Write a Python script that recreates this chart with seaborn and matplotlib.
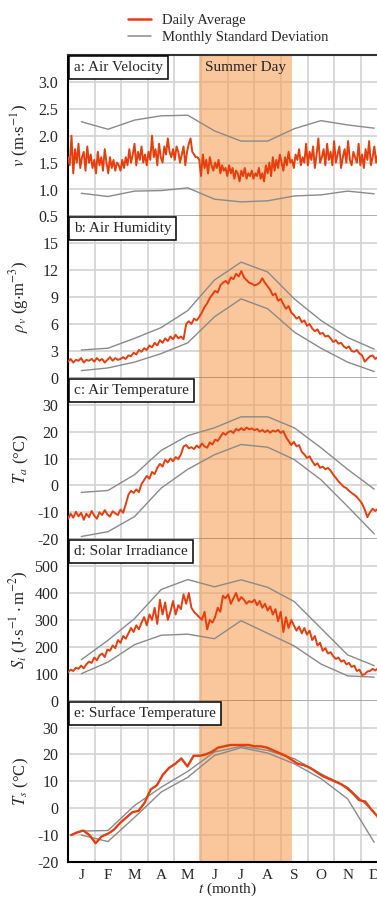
import numpy as np
import pandas as pd
import matplotlib
matplotlib.use('Agg')
import matplotlib.pyplot as plt
import seaborn as sns
from matplotlib.lines import Line2D
from matplotlib.ticker import FormatStrFormatter

# ---------------- data ----------------
month_labels = ['J', 'F', 'M', 'A', 'M', 'J', 'J', 'A', 'S', 'O', 'N', 'D']
summer_start_day = 150
summer_end_day = 256

# a: air velocity (every 2 days)
vel_daily = [
    1.6, 1.45, 2.0, 1.3, 1.75, 1.5, 1.85, 1.4, 1.6, 1.7, 1.35, 1.8, 1.5, 1.65, 1.4,
    1.55, 1.3, 1.7, 1.45, 1.6, 1.35, 1.75, 1.5, 1.3, 1.6, 1.4, 1.55, 1.35, 1.5, 1.45,
    1.35, 1.55, 1.4, 1.6, 1.45, 1.75, 1.5, 1.65, 1.85, 1.45, 1.7, 1.55, 1.8, 1.5, 1.65,
    1.45, 1.7, 1.55, 2.0, 1.6, 1.75, 1.45, 1.85, 1.6, 1.5, 1.8, 1.65, 1.95, 1.7, 1.6,
    1.75, 1.55, 1.8, 1.7, 1.5, 1.65, 1.8, 1.45, 1.7, 1.85, 1.95, 1.7, 1.65, 1.6, 1.6,
    1.55, 1.25, 1.65, 1.4, 1.55, 1.3, 1.6, 1.45, 1.35, 1.5, 1.4, 1.55, 1.3, 1.45, 1.35,
    1.4, 1.25, 1.45, 1.3, 1.4, 1.2, 1.35, 1.3, 1.15, 1.35, 1.25, 1.4, 1.2, 1.3, 1.25,
    1.35, 1.2, 1.3, 1.25, 1.4, 1.2, 1.3, 1.15, 1.45, 1.3, 1.5, 1.25, 1.6, 1.35, 1.55,
    1.4, 1.65, 1.5, 1.35, 1.6, 1.45, 1.7, 1.5, 1.55, 1.4, 1.65, 1.55, 1.75, 1.45, 1.6,
    1.5, 1.85, 1.45, 1.7, 1.55, 1.8, 1.4, 1.65, 1.95, 1.5, 1.6, 1.75, 1.45, 1.85, 1.55,
    1.7, 1.45, 1.9, 1.5, 1.65, 1.8, 1.4, 1.6, 1.75, 1.5, 1.9, 1.55, 1.45, 1.7, 1.6,
    1.5, 1.85, 1.45, 1.65, 1.4, 1.75, 1.55, 1.9, 1.45, 1.6, 1.8, 1.5, 1.65, 1.4, 1.7, 1.55, 1.8, 1.6,
]
vel_upper = [2.26, 2.12, 2.29, 2.37, 2.38, 2.09, 1.90, 1.90, 2.13, 2.28, 2.20, 2.14]
vel_lower = [0.93, 0.87, 0.97, 0.98, 1.03, 0.82, 0.77, 0.79, 0.88, 0.90, 0.97, 0.92]

# b: air humidity (every 3 days)
hum_daily = [
    1.8, 2.1, 1.7, 2.0, 1.9, 2.2, 1.7, 2.0, 1.9, 2.1,
    1.8, 2.2, 1.9, 2.1, 1.7, 2.0, 2.3, 1.9, 2.2, 2.0,
    2.1, 2.3, 2.1, 2.5, 2.4, 2.8, 2.6, 3.1, 2.9, 3.3,
    3.1, 3.6, 3.4, 3.9, 3.6, 4.2, 3.9, 4.4, 4.1, 4.6,
    4.3, 4.8, 4.4, 4.6, 4.3, 6.0, 6.3, 6.0, 6.6, 6.4,
    6.8, 7.3, 7.9, 8.3, 8.9, 9.3, 9.7, 9.5, 10.3, 10.6,
    10.8, 10.5, 11.2, 11.0, 11.6, 11.3, 11.9, 11.2, 10.9, 10.6,
    10.5, 10.3, 10.4, 10.6, 11.1, 10.6, 10.2, 9.8, 9.2, 9.4,
    8.6, 8.8, 8.2, 7.7, 8.0, 7.3, 7.0, 6.6, 6.8, 6.2,
    6.4, 5.8, 6.0, 5.5, 5.2, 5.4, 4.9, 5.0, 4.6, 4.7,
    4.4, 4.0, 4.2, 3.8, 3.9, 3.5, 3.3, 3.5, 3.0, 2.9,
    3.1, 2.7, 2.5, 1.8, 2.1, 2.4, 2.5, 2.1, 2.3, 2.2, 2.4, 2.3,
]
hum_upper = [3.1, 3.3, 4.4, 5.6, 7.5, 10.9, 12.9, 11.8, 8.8, 6.4, 4.5, 3.2]
hum_lower = [0.8, 1.1, 1.75, 2.7, 3.9, 6.8, 8.8, 7.7, 5.1, 3.3, 1.75, 0.7]

# c: air temperature (every 3 days)
temp_daily = [
    -12.5, -10.5, -12.0, -9.8, -11.5, -10.2, -12.8, -10.5, -11.8, -9.5,
    -11.2, -12.4, -10.0, -11.0, -9.2, -10.8, -11.6, -9.6, -10.4, -11.0,
    -9.0, -10.2, -7.0, -3.5, -2.0, -2.8, -1.5, -2.5, 0.5, 2.0,
    3.5, 2.5, 5.0, 4.2, 6.5, 8.0, 7.0, 9.5, 8.5, 10.0,
    9.0, 10.5, 9.8, 11.5, 14.5, 15.0, 13.8, 14.2, 13.5, 14.8,
    14.0, 15.6, 14.5, 14.0, 16.0, 15.2, 17.0, 16.5, 18.0, 19.5,
    18.8, 19.8, 20.2, 19.5, 21.0, 20.4, 21.3, 20.5, 21.5, 20.8,
    21.2, 20.5, 21.0, 20.0, 20.6, 19.8, 20.5, 19.6, 20.4, 20.0,
    20.6, 19.5, 20.2, 18.0, 16.5, 15.0, 16.2, 14.5, 15.0, 12.5,
    11.5, 10.2, 10.8, 9.0, 7.5, 8.2, 6.5, 7.0, 6.0, 6.5,
    5.5, 4.0, 2.8, 1.5, 0.5, -0.5, -1.0, -2.0, -2.8, -3.5,
    -4.3, -5.5, -6.8, -9.0, -11.8, -10.0, -8.7, -9.5, -8.7, -9.2, -8.5, -9.0,
]
temp_upper = [-2.6, -1.9, 4.0, 13.0, 18.5, 21.4, 25.5, 25.5, 21.4, 14.0, 6.0, -1.4]
temp_lower = [-19.0, -17.2, -11.6, -1.0, 6.0, 11.4, 15.2, 14.2, 9.6, 2.1, -7.8, -18.0]

# d: solar irradiance (every 3 days)
solar_daily = [
    105, 115, 110, 122, 118, 130, 120, 135, 145, 140,
    160, 150, 168, 175, 162, 190, 185, 205, 195, 225,
    215, 240, 230, 250, 270, 255, 280, 265, 290, 310,
    280, 320, 300, 345, 285, 375, 320, 365, 300, 330,
    370, 320, 355, 340, 395, 360, 400, 345, 330, 320,
    310, 300, 330, 265, 300, 290, 310, 345, 330, 390,
    380, 395, 360, 380, 400, 370, 385, 375, 360, 370,
    365, 375, 355, 370, 345, 360, 335, 350, 320, 340,
    295, 330, 255, 310, 270, 300, 280, 260, 275, 250,
    270, 245, 260, 225, 240, 205, 215, 185, 195, 175,
    180, 165, 155, 160, 145, 150, 135, 140, 125, 130,
    110, 115, 95, 98, 108, 110, 118, 112, 120, 115, 118, 120,
]
solar_upper = [152, 224, 305, 413, 450, 423, 449, 421, 368, 269, 170, 130]
solar_lower = [100, 143, 208, 243, 247, 230, 297, 250, 203, 136, 92, 87]

# e: surface temperature (weekly)
surf_weekly = [
    -10.0, -9.0, -8.3, -10.0, -13.0, -10.5, -9.5, -8.0, -5.5, -3.5,
    -1.5, -1.0, 2.0, 7.0, 8.5, 12.5, 15.0, 16.5, 18.5, 15.5,
    19.5, 19.5, 20.0, 21.0, 22.5, 23.0, 23.5, 23.5, 23.5, 23.5,
    23.0, 23.0, 22.5, 21.5, 20.5, 19.5, 18.0, 16.5, 16.0, 15.0,
    13.5, 12.0, 11.0, 10.0, 9.0, 7.5, 5.5, 3.0, 2.5, -0.5,
    -3.0, -8.5,
]
surf_upper = [-8.5, -8.3, 1.0, 7.8, 13.7, 20.9, 23.0, 21.5, 18.4, 12.8, 7.8, -1.5]
surf_lower = [-10.0, -12.4, -3.4, 6.0, 11.5, 19.6, 22.5, 20.5, 16.5, 11.0, 3.5, -12.7]

# ---------------- style ----------------
sns.set_theme(style='white')
plt.rcParams['font.family'] = ['Liberation Serif', 'DejaVu Serif']
plt.rcParams['mathtext.fontset'] = 'stix'

RED = '#E63E0C'
GRAY = '#8a8a8a'
SHADE = '#F7A15A'
GRID = '#d2d2d2'

DAYS_PER_MONTH = 365.0 / 12.0


def to_month(days):
    return np.asarray(days, dtype=float) / DAYS_PER_MONTH


month_centers = np.arange(12) + 0.5

panels = [
    dict(days=np.arange(0, 366, 2), y=vel_daily, up=vel_upper, lo=vel_lower,
         ylim=(0.5, 3.5), yticks=[0.5, 1.0, 1.5, 2.0, 2.5, 3.0],
         ylabel=r'$v$ (m$\cdot$s$^{-1}$)', title='a: Air Velocity', fmt='%.1f'),
    dict(days=np.arange(0, 364, 3), y=hum_daily, up=hum_upper, lo=hum_lower,
         ylim=(0, 18), yticks=[0, 3, 6, 9, 12, 15],
         ylabel=r'$\rho_v$ (g$\cdot$m$^{-3}$)', title='b: Air Humidity', fmt='%d'),
    dict(days=np.arange(0, 364, 3), y=temp_daily, up=temp_upper, lo=temp_lower,
         ylim=(-20, 40), yticks=[-20, -10, 0, 10, 20, 30],
         ylabel=r'$T_a$ (°C)', title='c: Air Temperature', fmt='%d'),
    dict(days=np.arange(0, 364, 3), y=solar_daily, up=solar_upper, lo=solar_lower,
         ylim=(0, 600), yticks=[0, 100, 200, 300, 400, 500],
         ylabel=r'$S_i$ (J$\cdot$s$^{-1}\cdot$m$^{-2}$)', title='d: Solar Irradiance', fmt='%d'),
    dict(days=np.arange(52) * 7 + 3.5, y=surf_weekly, up=surf_upper, lo=surf_lower,
         ylim=(-20, 40), yticks=[-20, -10, 0, 10, 20, 30],
         ylabel=r'$T_s$ (°C)', title='e: Surface Temperature', fmt='%d'),
]

W, H = 377, 897
fig = plt.figure(figsize=(W / 100, H / 100), dpi=100)
left_px, right_px = 68, 387.5
top_px, bottom_px = 55, 862
gs = fig.add_gridspec(5, 1, left=left_px / W, right=right_px / W,
                      top=1 - top_px / H, bottom=1 - bottom_px / H, hspace=0)

FS = 10.5
FS_TITLE = 11
FS_YT = 11.5
FS_XT = 11
FS_YL = 12
for i, p in enumerate(panels):
    ax = fig.add_subplot(gs[i])
    ax.set_axisbelow(True)
    ax.axvspan(to_month(summer_start_day), to_month(summer_end_day),
               color=SHADE, alpha=0.6, lw=0, zorder=1)
    x = to_month(p['days'])
    if len(x) != len(p['y']):
        raise ValueError(f"panel {i}: {len(x)} vs {len(p['y'])}")
    df = pd.DataFrame({'t': x, 'v': p['y']})
    dm = pd.DataFrame({'t': month_centers, 'up': p['up'], 'lo': p['lo']})
    sns.lineplot(data=dm, x='t', y='up', ax=ax, color=GRAY, lw=1.0, zorder=3)
    sns.lineplot(data=dm, x='t', y='lo', ax=ax, color=GRAY, lw=1.0, zorder=3)
    sns.lineplot(data=df, x='t', y='v', ax=ax, color=RED,
                 lw=1.7 if i == 4 else 1.4, zorder=4)

    ax.set_xlim(0, 12)
    ax.set_ylim(*p['ylim'])
    ax.set_yticks(p['yticks'])
    ax.yaxis.set_major_formatter(FormatStrFormatter(p['fmt']))
    ax.set_xticks(month_centers)
    ax.set_xticks(np.arange(1, 12), minor=True)
    ax.xaxis.grid(False, which='major')
    ax.xaxis.grid(True, which='minor', color=GRID, lw=1.2)
    ax.yaxis.grid(True, which='major', color=GRID, lw=1.2)
    ax.tick_params(axis='both', which='both', length=0)
    ax.tick_params(axis='y', pad=7, labelsize=FS_YT)
    ax.tick_params(axis='x', pad=5, labelsize=FS_XT)
    if i == 4:
        ax.set_xticklabels(month_labels)
        ax.set_xlabel(r'$t$ (month)', fontsize=FS_XT, labelpad=-1)
        ax.spines['bottom'].set_color('black')
        ax.spines['bottom'].set_linewidth(1.5)
    else:
        ax.set_xticklabels([])
        ax.set_xlabel('')
        ax.spines['bottom'].set_linestyle((0, (1, 1)))
        ax.spines['bottom'].set_color('black')
        ax.spines['bottom'].set_linewidth(1.0)
    ax.set_ylabel(p['ylabel'], fontsize=FS_YL)
    ax.yaxis.set_label_coords(-0.115, 0.5)
    ax.spines['left'].set_color('black')
    ax.spines['left'].set_linewidth(1.5)
    ax.spines['right'].set_visible(False)
    if i == 0:
        ax.spines['top'].set_color('#333333')
        ax.spines['top'].set_linewidth(1.5)
        ax.text(to_month((summer_start_day + summer_end_day) / 2), 3.27, 'Summer Day',
                ha='center', va='center', fontsize=FS_TITLE, zorder=6)
    else:
        ax.spines['top'].set_visible(False)
    ax.annotate(p['title'], xy=(0, 1), xycoords='axes fraction',
                xytext=(4.3, -4.3), textcoords='offset points',
                ha='left', va='top', fontsize=FS_TITLE, zorder=10,
                bbox=dict(boxstyle='square,pad=0.32', fc='white', ec='black', lw=1.1))

handles = [Line2D([], [], color=RED, lw=1.8), Line2D([], [], color=GRAY, lw=1.1)]
fig.legend(handles, ['Daily Average', 'Monthly Standard Deviation'],
           loc='center', bbox_to_anchor=(228 / W, 1 - 29 / H), frameon=False,
           fontsize=FS, handlelength=1.6, handletextpad=0.7, labelspacing=0.3)

fig.savefig('out.png', dpi=100)
